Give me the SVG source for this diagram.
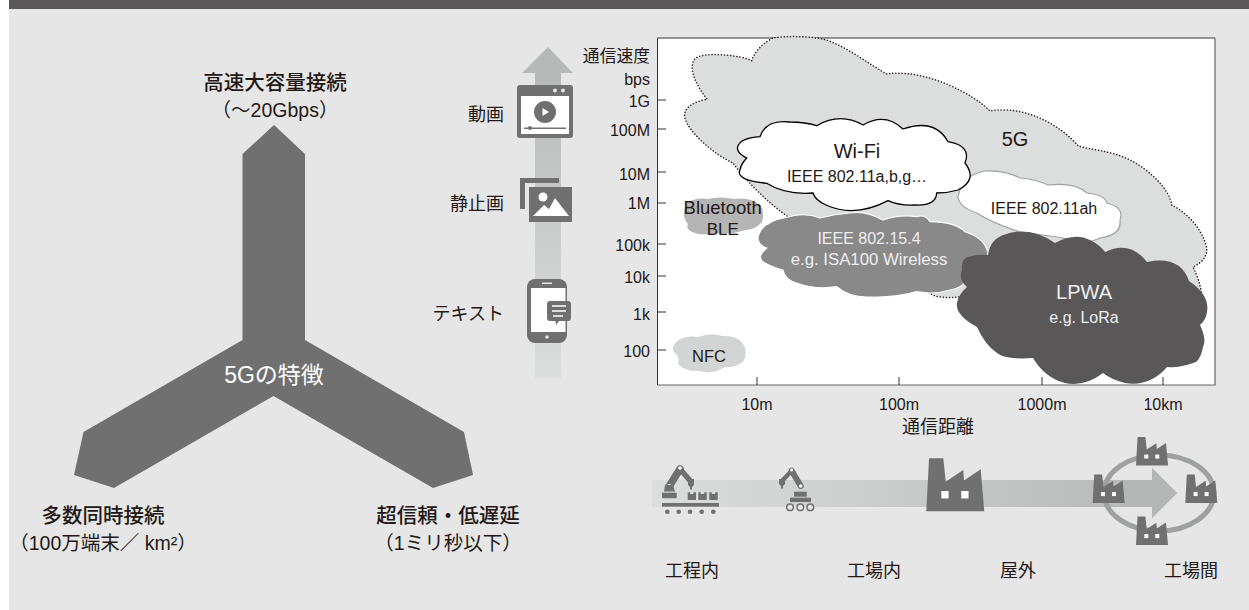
<svg xmlns="http://www.w3.org/2000/svg" width="1249" height="610" viewBox="0 0 1249 610">
<style>
text{font-family:"Liberation Sans","Noto Sans CJK JP",sans-serif;fill:#231815}
.h{font-size:20.5px;font-weight:500;text-anchor:middle}
.s{font-size:19.500px;text-anchor:middle}
.r{font-size:16px;text-anchor:end}
.l{font-size:18px;text-anchor:end}
.c{font-size:16px;text-anchor:middle}
.b{font-size:18px}
.w{font-size:16px;text-anchor:middle}
.g{fill:#717071}
.lt{fill:#e6e6e6}
.wh{fill:#fff}
</style>
<defs>
<linearGradient id="up" x1="0" y1="1" x2="0" y2="0"><stop offset="0" stop-color="#dcdddd"/><stop offset="1" stop-color="#b5b6b6"/></linearGradient>
<linearGradient id="rt" gradientUnits="userSpaceOnUse" x1="652" y1="0" x2="1177" y2="0"><stop offset="0" stop-color="#dcdddd"/><stop offset="1" stop-color="#b5b6b6"/></linearGradient>
<g id="factory"><path class="g" d="M0,28.500 L1.500,0 H9.400 L10.700,12.600 L20.400,6.300 L20.800,12 L30,5.900 L32,28.500Z"/><rect class="wh" x="8.300" y="17.600" width="4" height="4"/><rect class="wh" x="19.300" y="17.600" width="4" height="4"/></g>
</defs>
<rect width="1249" height="610" fill="#fff"/>
<rect x="9" y="9" width="1240" height="601" fill="#e6e6e6"/>
<rect x="9" width="1240" height="9" fill="#595757"/>

<g id="connectors">
<path fill="url(#up)" d="M548,47 L573,73 L561,73 L561,378 L535,378 L535,73 L522,73Z"/>
<path fill="url(#rt)" d="M652,480 L1152,480 L1152,468 L1177,493 L1152,518 L1152,507 L652,507Z"/>
</g>

<g id="features">
<path class="g" d="M274,125 L305,154 L305,340 L464,432 L473,475 L433,488 L273.500,396 L114,488 L74,475 L83.500,432 L242.500,340 L242.500,154Z"/>
<text x="274" y="383" font-size="23" text-anchor="middle" style="fill:#fff">5Gの特徴</text>
</g>
<g id="label-top"><text class="h" x="275" y="90">高速大容量接続</text><text class="s" x="275" y="117">（～20Gbps）</text></g>
<g id="label-left"><text class="h" x="103" y="523">多数同時接続</text><text class="s" x="103" y="550">（100万端末／ km²）</text></g>
<g id="label-right"><text class="h" x="448" y="523">超信頼・低遅延</text><text class="s" x="448" y="550">（1ミリ秒以下）</text></g>

<g id="video-icon">
<rect class="g" x="517" y="85" width="56" height="53" rx="3"/>
<rect class="wh" x="521" y="96" width="48" height="38"/>
<circle class="lt" cx="555" cy="90.500" r="2"/><circle class="lt" cx="563" cy="90.500" r="2"/>
<circle class="g" cx="545" cy="112" r="11"/><path class="wh" d="M542.500,108 L549,112 L542.500,116Z"/>
<rect class="g" x="524" y="127.500" width="42" height="1.500"/><circle class="g" cx="530" cy="128" r="2"/>
<text class="l" x="504" y="121">動画</text>
</g>
<g id="image-icon">
<path class="g" d="M520,178 H559 V183 H525 V209 H520Z"/>
<rect class="g" x="529" y="187" width="43" height="35"/>
<circle class="wh" cx="543" cy="197" r="4.500"/>
<path class="wh" d="M533,216 L544,205 L549,209 L555,198 L569,216Z"/>
<text class="l" x="504" y="210">静止画</text>
</g>
<g id="phone-icon">
<rect class="g" x="527" y="279" width="40" height="64" rx="8"/>
<rect class="wh" x="531" y="288" width="34.500" height="44"/>
<rect class="lt" x="542" y="282.500" width="10" height="1.500"/>
<circle class="lt" cx="547" cy="337" r="1.800"/>
<path class="g" d="M550,301 H568 Q571,301 571,304 V318 Q571,321 568,321 H559 L556,325 L555.500,321 H550 Q547,321 547,318 V304 Q547,301 550,301Z"/>
<path d="M552,306 H566 M552,311 H566 M553,316 H563" stroke="#fff" stroke-width="1.300" fill="none"/>
<text class="l" x="504" y="320">テキスト</text>
</g>

<g id="chart">
<rect x="657.500" y="38" width="557.500" height="347" fill="#fff"/>
<path d="M657.500,385 V38 H1215" fill="none" stroke="#333" stroke-width="1"/>
<path d="M657.500,385 H1215 V38" fill="none" stroke="#666" stroke-width="1.200"/>
<path d="M657.500,100H666M657.500,129H666M657.500,172H666M657.500,203H666M657.500,244H666M657.500,276H666M657.500,312H666M657.500,350H666M757,377V385M899,377V385M1042,377V385M1163,377V385" stroke="#333" stroke-width="1" fill="none"/>
<text class="r" x="650" y="62" style="font-size:16.800px">通信速度</text>
<text class="r" x="650" y="85">bps</text>
<text class="r" x="650" y="107">1G</text>
<text class="r" x="650" y="136">100M</text>
<text class="r" x="650" y="180">10M</text>
<text class="r" x="650" y="209">1M</text>
<text class="r" x="650" y="251">100k</text>
<text class="r" x="650" y="283">10k</text>
<text class="r" x="650" y="320">1k</text>
<text class="r" x="650" y="357">100</text>
<text class="c" x="757" y="409.500">10m</text>
<text class="c" x="899" y="409.500">100m</text>
<text class="c" x="1042" y="409.500">1000m</text>
<text class="c" x="1163" y="409.500">10km</text>
<text class="c" x="938" y="433" style="font-size:18px">通信距離</text>
</g>

<g id="cloud-5g">
<path fill="#dcdddd" stroke="#231815" stroke-width="1.500" stroke-dasharray="0.100 3" stroke-linecap="round" d="M751.700,60.700 C745,56 700,50 694,60 C688,70 698,88 707.300,99.300 C695,101 682,108 685,118 C688,132 715,155 733,163 C745,180 770,205 790,218 L935,296 C945,298 955,298 965,296 L1201.700,297 C1201,285 1197,275 1193,267 C1203,262 1209,255 1206,245 C1200,225 1185,212 1171.700,205 C1170,190 1150,170 1130,160 C1110,150 1090,150 1078,145.700 C1060,125 1025,105 990,111 C975,95 925,68 886.700,74 C870,65 845,45 823,39 C805,36 785,36 773,38 C765,42 755,50 751.700,60.700Z"/>
<text x="1015" y="146" font-size="20" text-anchor="middle">5G</text>
</g>
<g id="cloud-ah">
<path fill="#fff" stroke="#9fa0a0" stroke-width="1.200" d="M958,197 Q962,175 985,171 Q1005,170 1020,178 Q1035,179 1048,185 Q1075,182 1087,193 Q1105,195 1107,203 Q1125,208 1120,220 Q1122,235 1100,238 Q1085,245 1075,240 L1057,237 L1020,232 Q990,222 977,213 Q960,208 958,197Z"/>
<text class="w" x="1044" y="214">IEEE 802.11ah</text>
</g>
<g id="cloud-wifi">
<path fill="#fff" stroke="#000" stroke-width="1.300" d="M746.700,158 Q731,150 742,141 Q750,137 760,136.700 Q766,119 790,122 Q805,122 816.700,125.700 Q840,112 863,125 Q885,112 903,129 Q935,118 948,141.700 Q972,146 965,163 Q978,180 958,190 Q948,193 936.700,193 Q936,206 915,205 Q900,206 888,200.700 Q855,218 826,205 Q815,200 813,193 Q785,195 766.700,183.300 Q735,180 740,170 Q741,164 746.700,158Z"/>
<text x="857" y="157.700" font-size="20" text-anchor="middle">Wi-Fi</text>
<text class="w" x="857" y="181.700">IEEE 802.11a,b,g…</text>
</g>
<g id="cloud-bluetooth">
<path fill="#b5b5b6" d="M687,203 Q695,197 708,199 Q720,196 735,199 Q750,197 760,205 Q765,212 762,222 Q755,230 745,230 Q730,235 720,233 Q705,236 695,233 Q685,230 688,224 Q680,215 687,203Z"/>
<text x="722.700" y="214" font-size="18.500" text-anchor="middle">Bluetooth</text>
<text x="722.700" y="235" font-size="17" text-anchor="middle">BLE</text>
</g>
<g id="cloud-nfc">
<path fill="#d3d4d4" d="M676,342 Q685,335 698,337 Q712,332 722,336 Q738,335 744,345 Q748,353 743,362 Q735,368 725,367 Q712,375 700,371 Q685,372 678,364 Q680,358 676,354 Q670,350 676,342Z"/>
<text x="709" y="361.700" font-size="16.500" text-anchor="middle">NFC</text>
</g>
<g id="cloud-isa">
<path fill="#898989" stroke="#fff" stroke-width="1.200" d="M788,217 Q760,222 758,238 Q758,245 766.700,248 Q755,258 765,263 Q772,267 783,270 Q785,280 796.700,283 Q815,290 836.700,286.700 Q850,298 870,297 Q895,298 916.700,291.700 Q935,295 950,290 Q962,288 965,281.700 Q985,270 988,253 Q985,238 965,231.700 Q955,222 930,221.700 Q925,214 916.700,216.700 Q900,214 883,220 Q865,210 850,213 Q835,214 820,218 Q805,212 788,217Z"/>
<text class="w" x="869" y="244" style="fill:#efefef">IEEE 802.15.4</text>
<text class="w" x="869" y="265" style="fill:#efefef;font-size:16.800px">e.g. ISA100 Wireless</text>
</g>
<g id="cloud-lpwa">
<path fill="#595757" d="M962,270 Q960,257 972,256 Q980,254 988,255 Q990,240 1003,235 Q1030,225 1055,243 Q1075,232 1090,240 Q1100,245 1105,252 Q1130,240 1147,262 Q1180,255 1189,281 Q1210,295 1207,312 Q1206,320 1200,325 Q1207,340 1203,347 Q1200,362 1193,363 Q1180,368 1167,367 Q1150,387 1125,383 Q1112,380 1103,373 Q1085,387 1065,383 Q1045,378 1033,358 Q1005,360 997,353 Q985,345 977,327 Q955,315 957,303 Q958,295 967,287 Q958,280 962,270Z"/>
<text x="1084" y="299" font-size="20" text-anchor="middle" style="fill:#efefef">LPWA</text>
<text class="w" x="1084" y="323" style="fill:#efefef">e.g. LoRa</text>
</g>

<g id="robot-line">
<rect class="g" x="662" y="492.700" width="14.700" height="5.500"/>
<rect class="g" x="662" y="503" width="57" height="3.700"/>
<path d="M669.300,486 L680,469" fill="none" stroke="#717071" stroke-width="7.500" stroke-linecap="round"/>
<path d="M680,469 L691,481.700" fill="none" stroke="#717071" stroke-width="5.500" stroke-linecap="round"/>
<circle class="wh" cx="669.300" cy="486" r="2"/><circle class="wh" cx="680" cy="468" r="1.800"/>
<path class="g" d="M688,479 H694 V485 L692,487 V489.500 H690 V487 L688,485Z"/>
<path class="g" d="M664,491.500 L665,485 H673 L675,491.500Z"/>
<circle class="g" cx="667.300" cy="511.700" r="2.300"/><circle class="g" cx="678.700" cy="511.700" r="2.300"/><circle class="g" cx="690" cy="511.700" r="2.300"/><circle class="g" cx="701.700" cy="511.700" r="2.300"/><circle class="g" cx="713.300" cy="511.700" r="2.300"/>
<path class="g" d="M687.700,492.300 H690 V494 H693.500 V492.300 H696 V500 H687.700Z M698.300,492.300 H700.700 V494 H704.200 V492.300 H706.700 V500 H698.300Z M709.300,492.300 H711.700 V494 H715.200 V492.300 H717.700 V500 H709.300Z"/>
<text class="b" x="665" y="577">工程内</text>
</g>
<g id="robot-wheels">
<rect class="g" x="794" y="491.700" width="12.700" height="5"/>
<rect class="g" x="790" y="497.700" width="21" height="4.300"/>
<path d="M800.700,486 L791.700,470.700" fill="none" stroke="#717071" stroke-width="6" stroke-linecap="round"/>
<path d="M791.700,470.700 L782,481" fill="none" stroke="#717071" stroke-width="4.500" stroke-linecap="round"/>
<circle class="wh" cx="800.700" cy="486" r="1.700"/><circle class="wh" cx="791.700" cy="470" r="1.500"/>
<path class="g" d="M779,479 H785 V484 L783,486 V488.500 H781 V486 L779,484Z"/>
<circle cx="790" cy="507.300" r="3.300" fill="#e6e6e6" stroke="#717071" stroke-width="1.500"/><circle cx="800.300" cy="507.300" r="3.300" fill="#e6e6e6" stroke="#717071" stroke-width="1.500"/><circle cx="810.300" cy="507.300" r="3.300" fill="#e6e6e6" stroke="#717071" stroke-width="1.500"/>
<text class="b" x="847" y="577">工場内</text>
</g>
<g id="factory-large">
<use href="#factory" transform="translate(926.300,458.300) scale(1.812,1.860)"/>
<text class="b" x="1000" y="577">屋外</text>
</g>
<g id="factory-ring">
<ellipse cx="1159" cy="493" rx="55" ry="38" fill="none" stroke="#9fa0a0" stroke-width="5"/>
<path fill="#b5b6b6" d="M1120,480 H1152 V468 L1177,493 L1152,518 V507 H1120Z"/>
<use href="#factory" x="1092.700" y="474.500"/>
<use href="#factory" x="1136" y="437"/>
<use href="#factory" x="1185.300" y="474.500"/>
<use href="#factory" x="1136" y="516.500"/>
<text class="b" x="1164" y="577">工場間</text>
</g>
</svg>
